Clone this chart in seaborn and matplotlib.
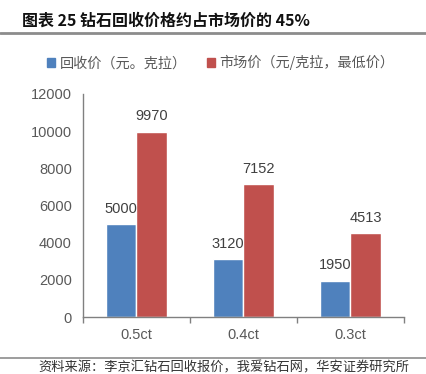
import pandas as pd
import matplotlib
matplotlib.use("Agg")
import matplotlib.pyplot as plt
import seaborn as sns
from matplotlib.lines import Line2D

categories = ["0.5ct", "0.4ct", "0.3ct"]
recycle_price = [5000, 3120, 1950]
market_price = [9970, 7152, 4513]
series_names = ["回收价（元。克拉）", "市场价（元/克拉，最低价）"]
colors = ["#4F81BD", "#C0504D"]

df = pd.DataFrame({
    "cat": categories * 2,
    "val": recycle_price + market_price,
    "series": [series_names[0]] * 3 + [series_names[1]] * 3,
})

sns.set_theme(style="white")
plt.rcParams["font.family"] = ["Liberation Sans", "Noto Sans CJK SC", "DejaVu Sans"]

fig = plt.figure(figsize=(4.26, 3.74), dpi=100)
ax = fig.add_axes([0.1948, 0.1524, 0.7535, 0.5963])

sns.barplot(data=df, x="cat", y="val", hue="series", order=categories,
            hue_order=series_names, palette=colors, width=0.57, ax=ax,
            saturation=1, legend=False)

for cont in ax.containers:
    ax.bar_label(cont, padding=6, fontsize=10.5, color="#404040")

ax.set_ylim(0, 12000)
ax.set_yticks(range(0, 12001, 2000))
ax.set_xlim(-0.5, 2.5)
ax.set_xlabel("")
ax.set_ylabel("")
ax.tick_params(axis="both", labelsize=10.5, labelcolor="#595959")
ax.tick_params(axis="y", length=0, pad=8)
ax.tick_params(axis="x", which="major", length=0, pad=8)
ax.set_xticks([-0.5, 0.5, 1.5, 2.5], minor=True)
ax.tick_params(axis="x", which="minor", length=4, color="#808080", width=1, bottom=True)
for s in ["top", "right"]:
    ax.spines[s].set_visible(False)
for s in ["left", "bottom"]:
    ax.spines[s].set_color("#808080")
    ax.spines[s].set_linewidth(1)

handles = [plt.Rectangle((0, 0), 1, 1, color=c) for c in colors]
fig.legend(handles, series_names, loc="center", bbox_to_anchor=(0.518, 0.832),
           ncol=2, frameon=False, handlelength=0.6, handleheight=0.6,
           handletextpad=0.3, columnspacing=1.4,
           prop={"family": ["Noto Sans CJK SC"], "size": 10.2}, labelcolor="#595959")

fig.text(0.052, 0.945, "图表 25 钻石回收价格约占市场价的 45%", fontsize=11.5,
         fontweight="bold", family=["Noto Sans CJK SC"], color="#111111", va="center")
fig.add_artist(Line2D([0, 1], [0.912, 0.912], color="#8c8c8c", lw=2, transform=fig.transFigure))
fig.add_artist(Line2D([0, 1], [0.043, 0.043], color="#8c8c8c", lw=1.2, transform=fig.transFigure))
fig.text(0.09, 0.017, "资料来源：李京汇钻石回收报价，我爱钻石网，华安证券研究所", fontsize=9.5,
         family=["Noto Sans CJK SC"], color="#333333", va="center")

fig.savefig("out.png", dpi=100)
